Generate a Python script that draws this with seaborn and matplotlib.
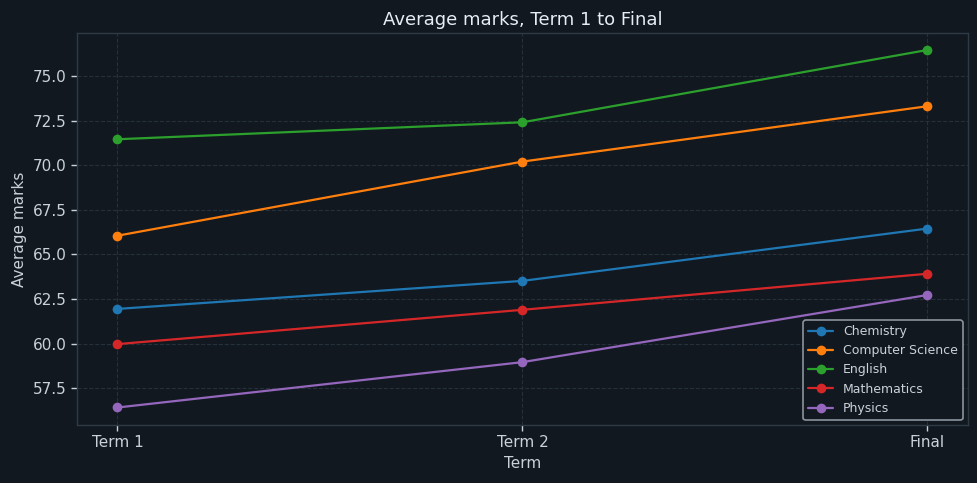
import matplotlib
matplotlib.use("Agg")
from matplotlib import pyplot as plt
import pandas as pd
import seaborn as sns

terms = ["Term 1", "Term 2", "Final"]
chemistry = [61.95, 63.52, 66.45]
computer_science = [66.05, 70.2, 73.3]
english = [71.45, 72.4, 76.45]
mathematics = [59.98, 61.9, 63.92]
physics = [56.43, 58.97, 62.73]

subjects = {
    "Chemistry": chemistry,
    "Computer Science": computer_science,
    "English": english,
    "Mathematics": mathematics,
    "Physics": physics,
}

rows = []
for name, vals in subjects.items():
    for i, v in enumerate(vals):
        rows.append({"Subject": name, "pos": i, "marks": v})
df = pd.DataFrame(rows)

bg = "#111820"
text_col = "#c9d1d9"

sns.set_theme(style="dark")
plt.rcParams["font.family"] = ["DejaVu Sans"]

fig = plt.figure(figsize=(9.78, 4.83), dpi=100, facecolor=bg)
ax = fig.add_axes([77 / 978, 1 - 425 / 483, (968 - 77) / 978, (425 - 33) / 483])
ax.set_facecolor(bg)

palette = ["#1f77b4", "#ff7f0e", "#2ca02c", "#d62728", "#9467bd"]
sns.lineplot(data=df, x="pos", y="marks", hue="Subject", palette=palette,
             marker="o", markersize=7, markeredgewidth=0, linewidth=1.6, ax=ax)

ax.set_xticks(range(len(terms)))
ax.set_xticklabels(terms)
ax.set_xlim(-0.1, 2.1)
ax.set_ylim(55.45, 77.4)
ax.set_yticks([57.5, 60.0, 62.5, 65.0, 67.5, 70.0, 72.5, 75.0])
ax.yaxis.set_major_formatter(matplotlib.ticker.FormatStrFormatter("%.1f"))

ax.grid(True, linestyle="--", color="#25303a", linewidth=0.8)
for s in ax.spines.values():
    s.set_color("#2e3a44")
    s.set_linewidth(1)
ax.tick_params(colors=text_col, labelsize=11, length=4, width=1, bottom=True, left=True)
ax.tick_params(axis="both", color="#c9d1d9")

ax.set_title("Average marks, Term 1 to Final", color="#e6edf3", fontsize=13, pad=6)
ax.set_xlabel("Term", color=text_col, fontsize=11)
ax.set_ylabel("Average marks", color=text_col, fontsize=11)

leg = ax.legend(loc="lower right", fontsize=9, facecolor=bg, edgecolor="#8b949e",
                labelcolor=text_col, framealpha=1, borderaxespad=0.4)
leg.get_frame().set_linewidth(1.2)

fig.savefig("out.png", dpi=100, facecolor=bg)
